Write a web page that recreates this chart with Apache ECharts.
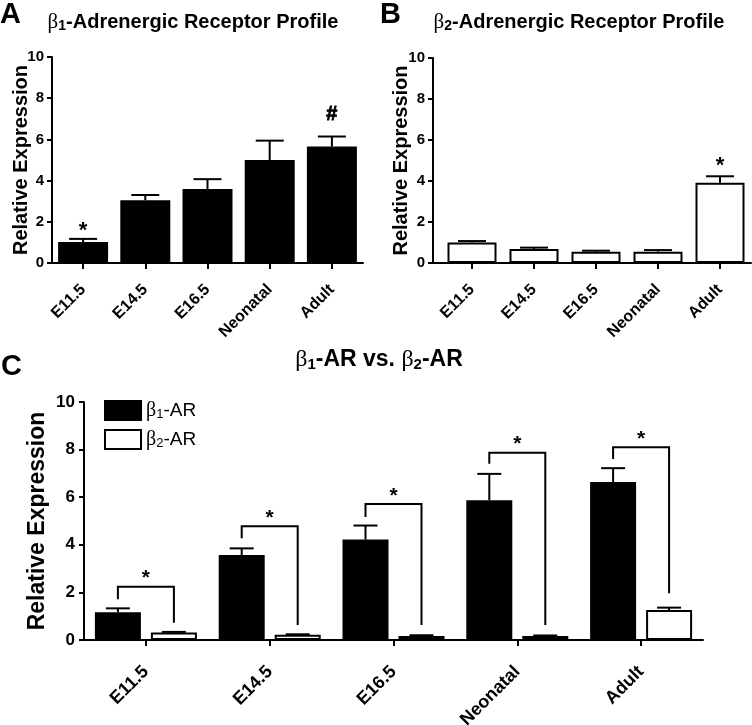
<!DOCTYPE html>
<html>
<head>
<meta charset="utf-8">
<script src="https://cdn.jsdelivr.net/npm/echarts@6/dist/echarts.min.js"></script>
<style>
html,body{margin:0;padding:0;background:#fff;}
#chart{width:752px;height:725px;}
</style>
</head>
<body>
<div id="chart"></div>
<script>
// ---------- data ----------
const categories = ['E11.5', 'E14.5', 'E16.5', 'Neonatal', 'Adult'];
const yTicks = [0, 2, 4, 6, 8, 10];

// Panel A: beta1 profile
const b1Mean = [1.02, 3.05, 3.59, 5.0, 5.65];
const b1Err  = [0.15, 0.25, 0.48, 0.94, 0.49];
const b1Mark = ['*', '', '', '', '#'];

// Panel B: beta2 profile
const b2Mean = [1.0, 0.68, 0.55, 0.55, 3.92];
const b2Err  = [0.07, 0.07, 0.05, 0.08, 0.31];
const b2Mark = ['', '', '', '', '*'];

// Panel C: beta1 vs beta2
const cB1Mean = [1.17, 3.57, 4.22, 5.87, 6.64];
const cB1Err  = [0.16, 0.28, 0.59, 1.11, 0.58];
const cB2Mean = [0.31, 0.22, 0.17, 0.17, 1.26];
const cB2Err  = [0.03, 0.02, 0.03, 0.02, 0.10];
const bracketTop   = [2.24, 4.78, 5.71, 7.87, 8.10];
const bracketLeft  = [1.71, 4.27, 5.17, 7.41, 7.60];
const bracketRight = [0.73, 0.63, 0.63, 0.63, 1.96];
const bracketMark  = ['*', '*', '*', '*', '*'];

// ---------- styles ----------
const FONT = "'Liberation Sans', Arial, Helvetica, sans-serif";
const SERIF = "'Liberation Serif', 'DejaVu Serif', serif";
const C_BAR_W = 46, C_GAP = 10;
const C_DX = C_BAR_W / 2 + C_GAP / 2;

function titleRich(size, subSize) {
  return {
    b: {fontFamily: SERIF, fontSize: size + 1, fontWeight: 'normal', color: '#000'},
    s: {fontFamily: FONT, fontSize: subSize, fontWeight: 'bold', color: '#000', padding: [Math.round(size*0.4), 0, 0, 0]},
    t: {fontFamily: FONT, fontSize: size, fontWeight: 'bold', color: '#000'}
  };
}

function yAxisCfg(gridIndex, fs, nameFs, nameGap, margin, offset) {
  return {
    type: 'value', gridIndex: gridIndex, min: 0, max: 10, interval: 2,
    offset: offset || 0,
    name: 'Relative Expression', nameLocation: 'middle', nameGap: nameGap, nameMoveOverlap: false,
    nameTextStyle: {fontFamily: FONT, fontWeight: 'bold', fontSize: nameFs, color: '#000'},
    axisLine: {show: true, lineStyle: {color: '#000', width: 2}},
    axisTick: {show: true, length: 5, lineStyle: {color: '#000', width: 2}},
    axisLabel: {fontFamily: FONT, fontWeight: 'bold', fontSize: fs, color: '#000', margin: margin,
      formatter: v => yTicks.indexOf(v) >= 0 ? String(v) : ''},
    splitLine: {show: false}
  };
}
function xAxisCfg(gridIndex, fs, margin) {
  return {
    type: 'category', gridIndex: gridIndex, data: categories,
    axisLine: {show: true, lineStyle: {color: '#000', width: 2}},
    axisTick: {show: true, alignWithLabel: true, length: 6, lineStyle: {color: '#000', width: 2}},
    axisLabel: {fontFamily: FONT, fontWeight: 'bold', fontSize: fs, color: '#000', rotate: 45, margin: margin, interval: 0},
    splitLine: {show: false}
  };
}

function errRender(dx, capHalf, marks, markFs, markGap) {
  return function (params, api) {
    const i = api.value(0), m = api.value(1), e = api.value(2);
    const p0 = api.coord([i, m]);
    const p1 = api.coord([i, m + e]);
    const x = p0[0] + dx;
    const children = [
      {type: 'line', shape: {x1: x, y1: p0[1], x2: x, y2: p1[1]}, style: {stroke: '#000', lineWidth: 2}},
      {type: 'line', shape: {x1: x - capHalf, y1: p1[1], x2: x + capHalf, y2: p1[1]}, style: {stroke: '#000', lineWidth: 2}}
    ];
    const mk = marks ? marks[params.dataIndex] : '';
    if (mk) {
      const off = mk === '#' ? 22 : markGap;
      children.push({type: 'text', style: {text: mk, x: x, y: p1[1] - off, align: 'center', verticalAlign: 'middle',
        font: 'bold ' + (mk === '#' ? markFs - 2 : markFs) + 'px ' + FONT, fill: '#000',
        stroke: mk === '#' ? '#000' : null, lineWidth: mk === '#' ? 0.8 : 0}});
    }
    return {type: 'group', children: children};
  };
}

function bracketRender(params, api) {
  const i = api.value(0);
  const top = api.value(1), lEnd = api.value(2), rEnd = api.value(3);
  const c = api.coord([i, top]);
  const xl = c[0] - C_DX, xr = c[0] + C_DX;
  const yl = api.coord([i, lEnd])[1], yr = api.coord([i, rEnd])[1];
  return {type: 'group', children: [
    {type: 'polyline', shape: {points: [[xl, yl], [xl, c[1]], [xr, c[1]], [xr, yr]]},
      style: {stroke: '#000', lineWidth: 2, fill: null}},
    {type: 'text', style: {text: bracketMark[params.dataIndex], x: c[0], y: c[1] - 8, align: 'center', verticalAlign: 'middle',
      font: 'bold 21px ' + FONT, fill: '#000'}}
  ]};
}

const chart = echarts.init(document.getElementById('chart'), null, {renderer: 'canvas'});

const option = {
  backgroundColor: '#fff',
  animation: false,
  title: [
    {text: 'A', left: 0, top: 0, textStyle: {fontFamily: FONT, fontWeight: 'bold', fontSize: 29, color: '#000'}, padding: 0},
    {text: 'B', left: 380, top: 0, textStyle: {fontFamily: FONT, fontWeight: 'bold', fontSize: 29, color: '#000'}, padding: 0},
    {text: 'C', left: 1, top: 352, textStyle: {fontFamily: FONT, fontWeight: 'bold', fontSize: 29, color: '#000'}, padding: 0},
    {text: '{b|β}{s|1}{t|-Adrenergic Receptor Profile}', left: 193, top: 11, textAlign: 'center', padding: 0,
      textStyle: {rich: titleRich(20, 14)}},
    {text: '{b|β}{s|2}{t|-Adrenergic Receptor Profile}', left: 579, top: 11, textAlign: 'center', padding: 0,
      textStyle: {rich: titleRich(20, 14)}},
    {text: '{b|β}{s|1}{t|-AR vs. }{b|β}{s|2}{t|-AR}', left: 379, top: 348, textAlign: 'center', padding: 0,
      textStyle: {rich: titleRich(23, 15)}}
  ],
  legend: {
    orient: 'vertical', left: 104, top: 400, itemWidth: 36, itemHeight: 19, itemGap: 8, padding: 0,
    icon: 'rect', itemTextGap: 4,
    data: [
      {name: 'β1-AR', itemStyle: {color: '#000', borderColor: '#000', borderWidth: 2}},
      {name: 'β2-AR', itemStyle: {color: '#fff', borderColor: '#000', borderWidth: 2}}
    ],
    formatter: function (n) { return n === 'β1-AR' ? '{b|β}{s|1}{t|-AR}' : '{b|β}{s|2}{t|-AR}'; },
    textStyle: {rich: {
      b: {fontFamily: SERIF, fontSize: 20, color: '#000'},
      s: {fontFamily: FONT, fontSize: 13, color: '#000', padding: [7, 0, 0, 0]},
      t: {fontFamily: FONT, fontSize: 19, color: '#000'}
    }}
  },
  grid: [
    {left: 52, top: 57, width: 311, height: 206, outerBoundsMode: 'none', containLabel: false},
    {left: 441, top: 58, width: 310, height: 205, outerBoundsMode: 'none', containLabel: false},
    {left: 84, top: 402, width: 619, height: 238, outerBoundsMode: 'none', containLabel: false}
  ],
  xAxis: [xAxisCfg(0, 16, 24), xAxisCfg(1, 16, 24), xAxisCfg(2, 18, 29)],
  yAxis: [yAxisCfg(0, 15, 20, 21, 8), yAxisCfg(1, 15, 20, 22, 8, 8), yAxisCfg(2, 17, 23, 35, 9)],
  graphic: [
    {type: 'line', shape: {x1: 433, y1: 263, x2: 442, y2: 263}, style: {stroke: '#000', lineWidth: 2}}
  ],
  series: [
    // Panel A
    {type: 'bar', xAxisIndex: 0, yAxisIndex: 0, data: b1Mean, barWidth: 50,
      itemStyle: {color: '#000', borderColor: '#000', borderWidth: 2}},
    {type: 'custom', xAxisIndex: 0, yAxisIndex: 0, renderItem: errRender(0, 14, b1Mark, 22, 8),
      data: b1Mean.map((v, i) => [i, v, b1Err[i]]), encode: {x: 0, y: 1}, z: 5},
    // Panel B
    {type: 'bar', xAxisIndex: 1, yAxisIndex: 1, data: b2Mean, barWidth: 49,
      itemStyle: {color: '#fff', borderColor: '#000', borderWidth: 2}},
    {type: 'custom', xAxisIndex: 1, yAxisIndex: 1, renderItem: errRender(0, 14, b2Mark, 22, 10),
      data: b2Mean.map((v, i) => [i, v, b2Err[i]]), encode: {x: 0, y: 1}, z: 5},
    // Panel C
    {name: 'β1-AR', type: 'bar', xAxisIndex: 2, yAxisIndex: 2, data: cB1Mean, barWidth: C_BAR_W,
      barGap: (C_GAP / C_BAR_W * 100) + '%',
      itemStyle: {color: '#000', borderColor: '#000', borderWidth: 2}},
    {name: 'β2-AR', type: 'bar', xAxisIndex: 2, yAxisIndex: 2, data: cB2Mean, barWidth: C_BAR_W,
      barGap: (C_GAP / C_BAR_W * 100) + '%',
      itemStyle: {color: '#fff', borderColor: '#000', borderWidth: 2}},
    {type: 'custom', xAxisIndex: 2, yAxisIndex: 2, renderItem: errRender(-C_DX, 12, null, 0, 0),
      data: cB1Mean.map((v, i) => [i, v, cB1Err[i]]), encode: {x: 0, y: 1}, z: 5},
    {type: 'custom', xAxisIndex: 2, yAxisIndex: 2, renderItem: errRender(C_DX, 12, null, 0, 0),
      data: cB2Mean.map((v, i) => [i, v, cB2Err[i]]), encode: {x: 0, y: 1}, z: 5},
    {type: 'custom', xAxisIndex: 2, yAxisIndex: 2, renderItem: bracketRender,
      data: bracketTop.map((v, i) => [i, v, bracketLeft[i], bracketRight[i]]), encode: {x: 0, y: 1}, z: 5}
  ]
};
chart.setOption(option);
</script>
</body>
</html>
